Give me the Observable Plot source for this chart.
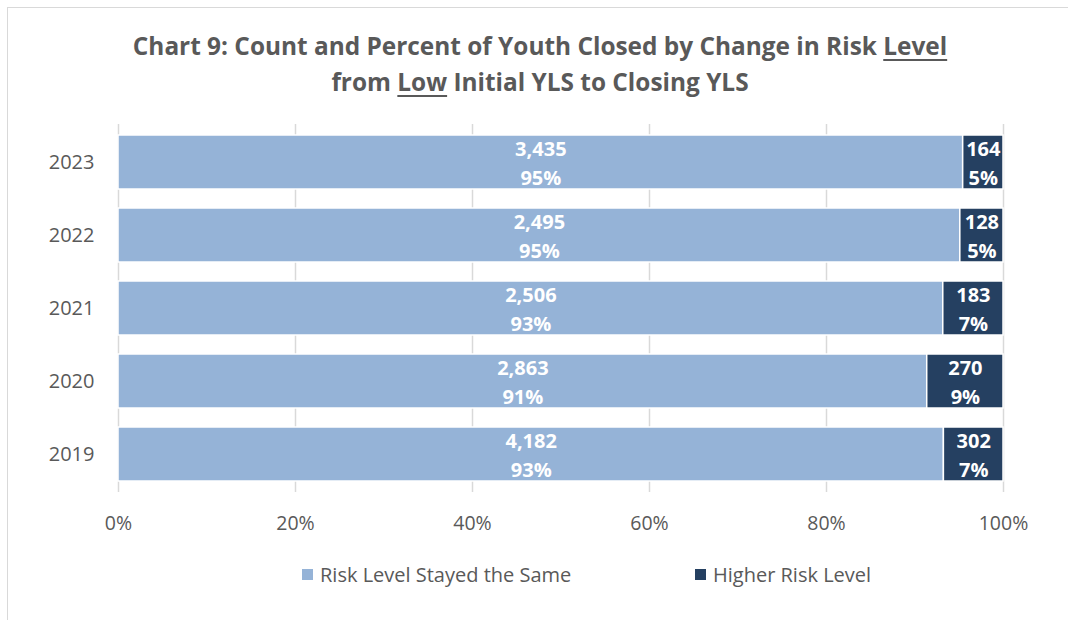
<!DOCTYPE html>
<html>
<head>
<meta charset="utf-8">
<script src="https://cdn.jsdelivr.net/npm/d3@7"></script>
<script src="https://cdn.jsdelivr.net/npm/@observablehq/plot@0.6"></script>
<style>
  html, body { margin: 0; padding: 0; background: #fff; overflow: hidden; width: 1068px; height: 620px; }
  #frame { position: absolute; left: 7px; top: 7px; width: 1100px; height: 700px; border: 1px solid #D9D9D9; box-sizing: border-box; }
  #title { position: absolute; left: 0; top: 28px; width: 1080px; text-align: center; font-family: "Open Sans", sans-serif; font-weight: bold; font-size: 24.4px; color: #595959; line-height: 36px; }
  #title u { text-decoration-thickness: 2px; text-underline-offset: 4px; }
  #chart { position: absolute; left: 0; top: 110px; }
  #legend { position: absolute; left: 0; top: 561px; width: 1068px; font-family: "Open Sans", sans-serif; font-size: 20px; color: #595959; }
  .item { position: absolute; top: 0; display: flex; align-items: center; white-space: nowrap; }
  .sw { width: 11px; height: 11px; margin-right: 7px; display: inline-block; }
</style>
</head>
<body>
<div id="frame"></div>
<div id="title">Chart 9: Count and Percent of Youth Closed by Change in Risk <u>Level</u><br>from <u>Low</u> Initial YLS to Closing YLS</div>
<div id="chart"></div>
<div id="legend"></div>
<script>
const years = ["2023", "2022", "2021", "2020", "2019"];
const sameCounts = [3435, 2495, 2506, 2863, 4182];
const higherCounts = [164, 128, 183, 270, 302];
const samePct = [95, 95, 93, 91, 93];
const higherPct = [5, 5, 7, 9, 7];
const categories = ["Risk Level Stayed the Same", "Higher Risk Level"];
const colors = ["#95B3D7", "#254061"];
const xTicks = [0, 0.2, 0.4, 0.6, 0.8, 1];

const rows = [];
years.forEach((y, i) => {
  rows.push({year: y, cat: categories[0], count: sameCounts[i], pct: samePct[i]});
  rows.push({year: y, cat: categories[1], count: higherCounts[i], pct: higherPct[i]});
});

const fmt = d3.format(",");
const W = 1068, H = 440;

const chart = Plot.plot({
  width: W,
  height: H,
  marginLeft: 118,
  marginRight: 65,
  marginTop: 14,
  marginBottom: 58,
  style: {fontFamily: "'Open Sans', sans-serif", background: "transparent"},
  x: {domain: [0, 1]},
  y: {domain: years, paddingInner: 0.26, paddingOuter: 0.13},
  color: {domain: categories, range: colors},
  marks: [
    Plot.ruleX(xTicks, {stroke: "#D9D9D9", strokeWidth: 1.5}),
    Plot.barX(rows, Plot.stackX({
      x: "count", y: "year", fill: "cat", z: "cat", order: categories,
      offset: "normalize", stroke: "white", strokeWidth: 1.5
    })),
    Plot.text(rows, Plot.stackX({
      x: "count", y: "year", z: "cat", order: categories, offset: "normalize",
      text: d => fmt(d.count) + "\n" + d.pct + "%",
      fill: "white", fontWeight: "bold", fontSize: 20, lineHeight: 1.45, dy: -1
    })),
    Plot.axisX({ticks: xTicks, tickFormat: d => Math.round(d * 100) + "%", tickSize: 0, tickPadding: 24, fontSize: 19.5, color: "#595959", label: null}),
    Plot.axisY({tickSize: 0, tickPadding: 24, fontSize: 20, color: "#595959", label: null})
  ]
});
document.getElementById("chart").appendChild(chart);

const legend = document.getElementById("legend");
const legendX = [302, 695];
categories.forEach((c, i) => {
  const item = document.createElement("div");
  item.className = "item";
  item.style.left = legendX[i] + "px";
  const sw = document.createElement("span");
  sw.className = "sw";
  sw.style.background = colors[i];
  item.appendChild(sw);
  item.appendChild(document.createTextNode(c));
  legend.appendChild(item);
});
</script>
</body>
</html>
